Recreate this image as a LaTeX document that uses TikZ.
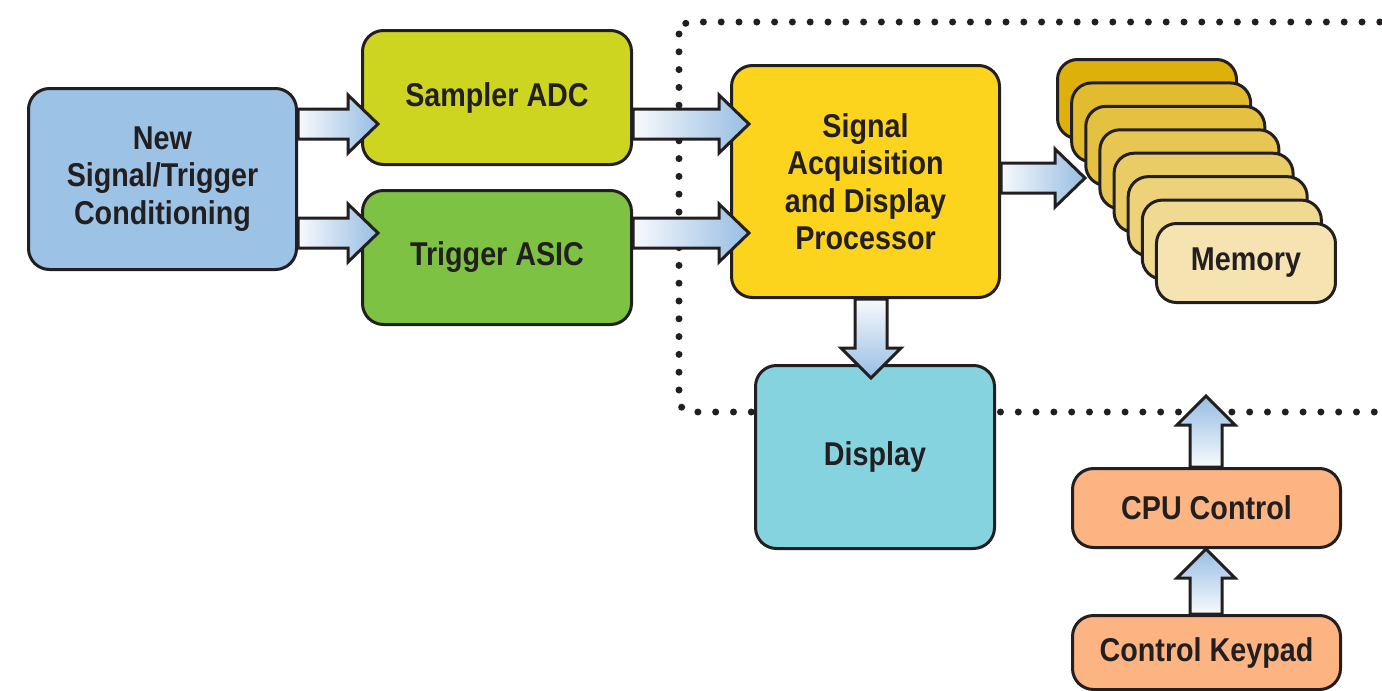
\documentclass[tikz,border=0pt]{standalone}
\usepackage{fontspec}
\setmainfont{Liberation Sans}[FakeStretch=0.87]
\usetikzlibrary{calc}
\definecolor{ink}{HTML}{231F20}
\definecolor{newblue}{HTML}{9CC2E5}
\definecolor{adcgreen}{HTML}{CDD520}
\definecolor{triggreen}{HTML}{7DC242}
\definecolor{sigyellow}{HTML}{FDD41D}
\definecolor{dispcyan}{HTML}{86D3E0}
\definecolor{cpuorange}{HTML}{FBB482}
\definecolor{arrowblue}{HTML}{97BDE3}
\definecolor{memback}{HTML}{DDB00A}
\definecolor{memfront}{HTML}{F5E3B2}
\tikzset{
  box/.style={draw=ink, line width=3pt, rounded corners=21pt, align=center,
    text=ink, font=\bfseries\fontsize{33}{37.5}\selectfont, inner sep=0pt},
  blockarrow/.style={draw=ink, line width=3pt, line join=miter},
  dotframe/.style={draw=ink, line width=7pt, line cap=round,
    dash pattern=on 0pt off 17.8pt, rounded corners=12pt},
}
% horizontal block arrow: start (x from it), tip (x,y from it)
\newcommand\hblock[2]{%
  \path[blockarrow, left color=white!92!arrowblue, right color=arrowblue]
    let \p1=(#1), \p2=(#2) in
    (\x1,\y2+15pt) -- (\x2-30pt,\y2+15pt) -- (\x2-30pt,\y2+29pt) -- (\x2,\y2)
    -- (\x2-30pt,\y2-29pt) -- (\x2-30pt,\y2-15pt) -- (\x1,\y2-15pt) -- cycle;}
% downward block arrow
\newcommand\dblock[2]{%
  \path[blockarrow, top color=white!92!arrowblue, bottom color=arrowblue]
    let \p1=(#1), \p2=(#2) in
    (\x2-16pt,\y1) -- (\x2-16pt,\y2+30pt) -- (\x2-30pt,\y2+30pt) -- (\x2,\y2)
    -- (\x2+30pt,\y2+30pt) -- (\x2+16pt,\y2+30pt) -- (\x2+16pt,\y1) -- cycle;}
% upward block arrow
\newcommand\ublock[2]{%
  \path[blockarrow, bottom color=white!92!arrowblue, top color=arrowblue]
    let \p1=(#1), \p2=(#2) in
    (\x2-16pt,\y1) -- (\x2-16pt,\y2-29pt) -- (\x2-29pt,\y2-29pt) -- (\x2,\y2)
    -- (\x2+29pt,\y2-29pt) -- (\x2+16pt,\y2-29pt) -- (\x2+16pt,\y1) -- cycle;}
\begin{document}
\begin{tikzpicture}[x=1pt,y=-1pt]
\useasboundingbox (0,0) rectangle (1382,691);
% dotted frame
\coordinate (fa) at (679,22);
\coordinate (fb) at (1392,412);
\draw[dotframe] (fa) rectangle (fb);
% main boxes
\node[box, fill=newblue, minimum width=268pt, minimum height=181pt] (new) at (162.5,179) {New\\Signal/Trigger\\Conditioning};
\node[box, fill=adcgreen, minimum width=269pt, minimum height=134pt] (adc) at (497,97.5) {Sampler ADC};
\node[box, fill=triggreen, minimum width=269pt, minimum height=134pt] (trig) at (497,257.5) {Trigger ASIC};
\node[box, fill=sigyellow, minimum width=268pt, minimum height=232pt] (sig) at (865.5,181.5) {Signal\\Acquisition\\and Display\\Processor};
\node[box, fill=dispcyan, minimum width=239pt, minimum height=183pt] (disp) at (875,457) {\raisebox{-4pt}{Display}};
\node[box, fill=cpuorange, minimum width=268pt, minimum height=79pt] (cpu) at (1206.5,508) {CPU Control};
\node[box, fill=cpuorange, minimum width=268pt, minimum height=74pt] (key) at (1206.5,652.5) {\raisebox{-2pt}{Control Keypad}};
% memory stack
\foreach \k/\pct in {0/0,1/22,2/33,3/44,4/55,5/66,6/80,7/100}{
  \colorlet{memc}{memfront!\pct!memback}
  \node[box, fill=memc, minimum width=179pt, minimum height=79pt, rounded corners=20pt]
    (mem\k) at ({1147+14.14*\k},{99+23.43*\k}) {\ifnum\k=7 \raisebox{-3pt}{Memory}\fi};
}
% free tips
\coordinate (tipadc) at (378,124);
\coordinate (tiptrig) at (378,233);
\coordinate (tipsig1) at (749,124);
\coordinate (tipsig2) at (749,233);
\coordinate (tipmem) at (1085,178);
\coordinate (tipdisp) at (871,378);
\coordinate (tipframe) at (1206,396);
\coordinate (tipcpu) at (1206,549);
% block arrows
\hblock{new.east}{tipadc}
\hblock{new.east}{tiptrig}
\hblock{adc.east}{tipsig1}
\hblock{trig.east}{tipsig2}
\hblock{sig.east}{tipmem}
\dblock{sig.south}{tipdisp}
\ublock{cpu.north}{tipframe}
\ublock{key.north}{tipcpu}
\end{tikzpicture}
\end{document}
